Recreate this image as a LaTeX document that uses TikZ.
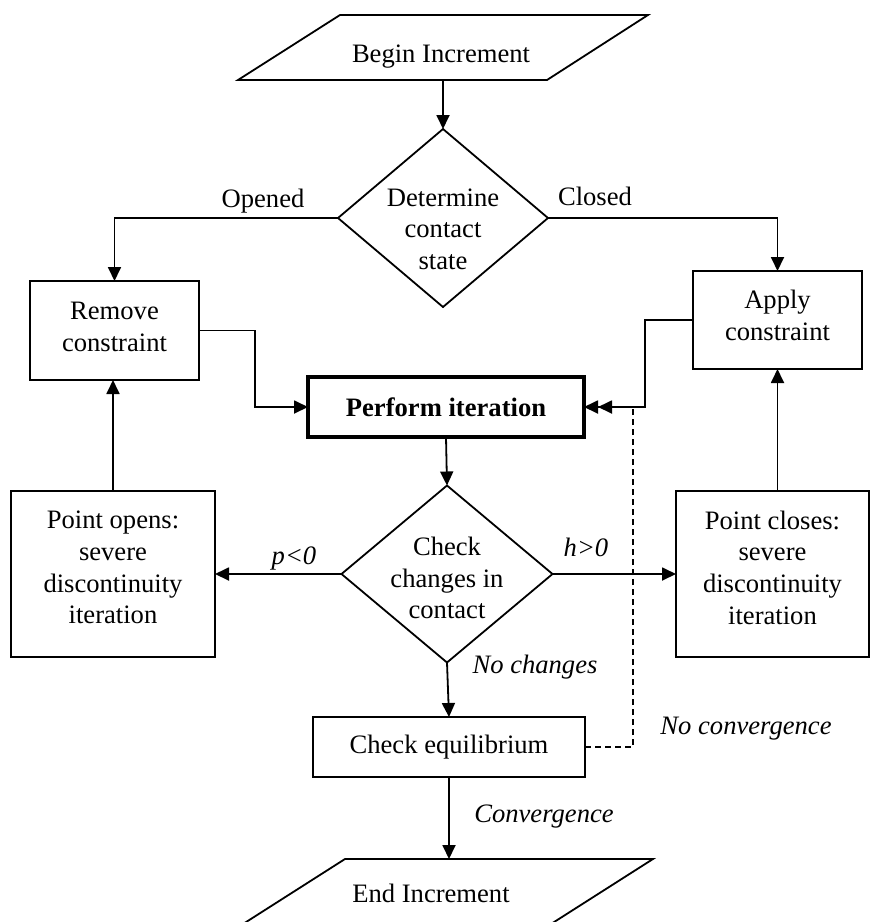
\documentclass[tikz,border=0pt]{standalone}
\usepackage{fontspec}
\setmainfont{Liberation Serif}
\usetikzlibrary{arrows.meta,shapes.geometric}
\begin{document}
\begin{tikzpicture}[x=0.5pt,y=-0.5pt,
  every node/.style={font=\fontsize{13.3pt}{15.8pt}\selectfont, inner sep=0pt, outer sep=0pt},
  box/.style={draw, line width=0.9pt, align=center},
  lbl/.style={font=\fontsize{13.3pt}{15.8pt}\selectfont\itshape, anchor=base},
  plain/.style={anchor=base},
  conn/.style={line width=0.9pt, -{Triangle[length=7pt,width=6.5pt]}},
  dconn/.style={line width=0.9pt, -{Triangle[length=7pt,width=6.5pt] Triangle[length=7pt,width=6.5pt]}},
  dashconn/.style={line width=0.9pt, dash pattern=on 3pt off 2pt},
  dia/.style={draw, diamond, line width=0.9pt, minimum width=105pt, minimum height=89pt},
  para/.style={line width=0.9pt}
]
\useasboundingbox (0,0) rectangle (871,922);
\clip (0,0) rectangle (871,922);

% begin
\draw[para] (340,15) -- (648,15) -- (547,80) -- (238,80) -- cycle;
\node[plain] (begin) at (441,62) {Begin Increment};
\coordinate (beginbot) at (443,80);

% decision 1
\node[dia] (d1) at (443,218) {};
\node[align=center] (d1t) at (443,229) {Determine\\contact\\state};

% boxes
\node[box, text depth=4pt, minimum width=84.5pt, minimum height=49.5pt] (remove) at (114.5,330.5) {Remove\\constraint};
\node[box, text depth=4.5pt, minimum width=84.5pt, minimum height=49pt] (apply) at (777.5,320) {Apply\\constraint};
\node[box, line width=2pt, minimum width=138pt, minimum height=30pt,
      font=\fontsize{13.3pt}{15.8pt}\selectfont\bfseries] (perform) at (446,407) {Perform iteration};

% decision 2
\node[dia, minimum width=105.5pt, minimum height=88.5pt] (d2) at (447,574) {};
\node[align=center] (d2t) at (447,578) {Check\\changes in\\contact};

\node[box, text depth=6.5pt, minimum width=102pt, minimum height=83pt] (popen) at (113,574) {Point opens:\\severe\\discontinuity\\iteration};
\node[box, text depth=6.5pt, minimum width=96.5pt, minimum height=83pt] (pclose) at (772.5,574) {Point closes:\\severe\\discontinuity\\iteration};
\node[box, minimum width=136pt, minimum height=30pt] (checkeq) at (449,747) {Check equilibrium};

% end
\draw[para] (345,859) -- (653,859) -- (551,924) -- (243,924) -- cycle;
\node[plain] (end) at (431,902) {End Increment};
\coordinate (endtop) at (449,859);

% helper coordinates
\coordinate (rp) at (255,0);
\coordinate (ap) at (645,0);
\coordinate (dp) at (633,0);

% connectors
\draw[conn] (beginbot) -- (d1.north);
\draw[conn] (d1.west) -| (remove.north);
\draw[conn] (d1.east) -| (apply.north);
\draw[conn] (remove.east) -- (remove.east -| rp) -- (rp |- perform.west) -- (perform.west);
\draw[dconn] (apply.west) -- (apply.west -| ap) -- (ap |- perform.east) -- (perform.east);
\draw[dashconn] (checkeq.east) -- (checkeq.east -| dp) -- (dp |- perform.east);
\draw[conn] (perform.south) -- (d2.north);
\draw[conn] (d2.west) -- (popen.east);
\draw[conn] (d2.east) -- (pclose.west);
\draw[conn] (popen.north) -- (popen.north |- remove.south);
\draw[conn] (apply.south |- pclose.north) -- (apply.south);
\draw[conn] (d2.south) -- (checkeq.north);
\draw[conn] (checkeq.south) -- (endtop);

% labels
\node[plain] (lopened) at (263,207) {Opened};
\node[plain] (lclosed) at (595,205) {Closed};
\node[lbl] (lp) at (294,564) {p<0};
\node[lbl] (lh) at (586,556) {h>0};
\node[lbl] (lnoch) at (535,673) {No changes};
\node[lbl] (lnoconv) at (746,734) {No convergence};
\node[lbl] (lconv) at (544,822) {Convergence};
\end{tikzpicture}
\end{document}
